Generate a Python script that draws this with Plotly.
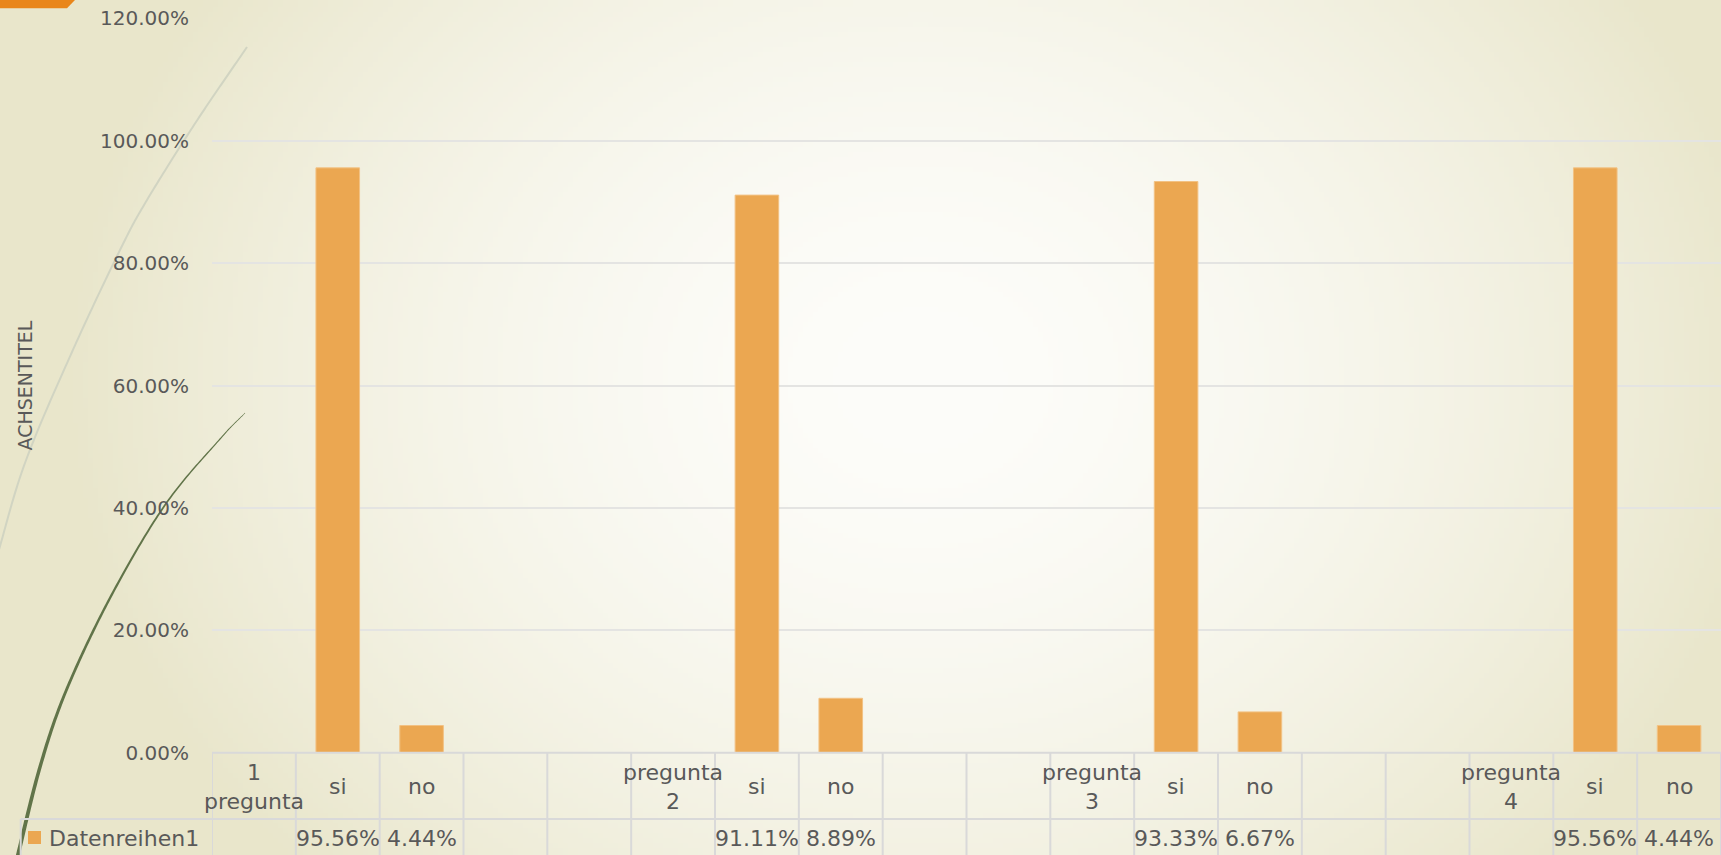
import base64
import struct
import zlib

import numpy as np
import plotly.graph_objects as go

# ---------------- data ----------------
categories = ["1<br>pregunta", "si", "no", "", "",
              "pregunta<br>2", "si", "no", "", "",
              "pregunta<br>3", "si", "no", "", "",
              "pregunta<br>4", "si", "no"]
values = [None, 0.9556, 0.0444, None, None,
          None, 0.9111, 0.0889, None, None,
          None, 0.9333, 0.0667, None, None,
          None, 0.9556, 0.0444]
series_name = "Datenreihen1"
y_tick_values = [0.0, 0.2, 0.4, 0.6, 0.8, 1.0, 1.2]
axis_title = "ACHSENTITEL"

# ---------------- layout constants ----------------
W, H = 1721, 855
PLOT_L, PLOT_R = 212.0, 1721.0
PLOT_T, PLOT_B = 18.3, 752.7
ROW_SPLIT = 819.0
LEG_LEFT = 20.7
FONT = "DejaVu Sans"
TXT = "#595959"
BAR = "#EBA751"
GRID = "#E4E4E2"
TABLE_LINE = "#D9D9D9"


def px(x):
    return x / W


def py(y):
    return 1 - y / H


# ---------------- background gradient (png) ----------------
def png_data_uri(arr):
    h, w, _ = arr.shape
    raw = b"".join(b"\x00" + arr[r].tobytes() for r in range(h))

    def chunk(t, d):
        return (struct.pack(">I", len(d)) + t + d
                + struct.pack(">I", zlib.crc32(t + d) & 0xFFFFFFFF))

    data = (b"\x89PNG\r\n\x1a\n"
            + chunk(b"IHDR", struct.pack(">IIBBBBB", w, h, 8, 2, 0, 0, 0))
            + chunk(b"IDAT", zlib.compress(raw, 9))
            + chunk(b"IEND", b""))
    return "data:image/png;base64," + base64.b64encode(data).decode()


gw, gh = 344, 171
gx = (np.arange(gw) + 0.5) * W / gw
gy = (np.arange(gh) + 0.5) * H / gh
XX, YY = np.meshgrid(gx, gy)
rr = np.sqrt(((XX - 920) / 860) ** 2 + ((YY - 380) / 720) ** 2)
t = np.clip(rr, 0, 1) ** 1.7
c0 = np.array([253, 253, 250], dtype=float)
c1 = np.array([233, 230, 203], dtype=float)
img = (c0[None, None, :] * (1 - t[..., None]) + c1[None, None, :] * t[..., None])
img = np.clip(img, 0, 255).astype(np.uint8)
bg_uri = png_data_uri(img)


# ---------------- decorative curves ----------------
def catmull(points, n=30):
    p = np.array(points, dtype=float)
    p = np.vstack([p[0] * 2 - p[1], p, p[-1] * 2 - p[-2]])
    out = []
    for i in range(1, len(p) - 2):
        p0, p1, p2, p3 = p[i - 1], p[i], p[i + 1], p[i + 2]
        for s in np.linspace(0, 1, n, endpoint=False):
            s2, s3 = s * s, s * s * s
            out.append(0.5 * ((2 * p1) + (-p0 + p2) * s
                              + (2 * p0 - 5 * p1 + 4 * p2 - p3) * s2
                              + (-p0 + 3 * p1 - 3 * p2 + p3) * s3))
    out.append(p[-2])
    return np.array(out)


def path_from(pts, close=False):
    s = "M " + " L ".join(f"{px(a):.5f},{py(b):.5f}" for a, b in pts)
    return s + (" Z" if close else "")


light_pts = catmull([(247, 47), (196, 122), (147, 200), (120, 250),
                     (72, 352), (25, 463), (-4, 560)])
dark_c = catmull([(245, 413), (220, 439), (165, 505), (110, 598),
                  (66, 691), (40, 767), (18, 855), (14, 875)])
tang = np.gradient(dark_c, axis=0)
tang /= np.linalg.norm(tang, axis=1)[:, None]
norm = np.stack([-tang[:, 1], tang[:, 0]], axis=1)
wid = np.linspace(0.6, 4.6, len(dark_c))[:, None]
left = dark_c + norm * wid / 2
right = dark_c - norm * wid / 2
dark_poly = np.vstack([left, right[::-1]])

# ---------------- figure ----------------
idx = list(range(len(categories)))
bar_x = [i for i, v in zip(idx, values) if v is not None]
bar_y = [v for v in values if v is not None]

fig = go.Figure()
fig.add_trace(go.Bar(
    x=bar_x, y=bar_y, name=series_name, width=0.52,
    marker=dict(color=BAR, line=dict(color="#F2C284", width=1)),
    showlegend=False, hoverinfo="y",
))

shapes = []
annotations = []

# orange corner shape
shapes.append(dict(type="path", xref="paper", yref="paper", layer="below",
                   path=path_from([(0, 0), (75, 0), (67, 8.3), (0, 8.3)], True),
                   fillcolor="#E9861A", line=dict(width=0)))
# decorative curves
shapes.append(dict(type="path", xref="paper", yref="paper", layer="below",
                   path=path_from(light_pts), line=dict(color="#D1D4C2", width=2)))
shapes.append(dict(type="path", xref="paper", yref="paper", layer="below",
                   path=path_from(dark_poly, True), fillcolor="#617449",
                   line=dict(width=0)))

# data table grid
y_top, y_mid, y_bot = py(PLOT_B), py(ROW_SPLIT), py(H + 5)
for k in range(len(categories) + 1):
    shapes.append(dict(type="line", xref="x", yref="paper",
                       x0=k - 0.5, x1=k - 0.5, y0=y_top, y1=y_bot,
                       line=dict(color=TABLE_LINE, width=2)))
shapes.append(dict(type="line", xref="x", yref="paper", x0=-0.5,
                   x1=len(categories) - 0.5, y0=y_top, y1=y_top,
                   line=dict(color=TABLE_LINE, width=2)))
shapes.append(dict(type="line", xref="paper", yref="paper", x0=px(LEG_LEFT),
                   x1=1.0, y0=y_mid, y1=y_mid,
                   line=dict(color=TABLE_LINE, width=2)))
shapes.append(dict(type="line", xref="paper", yref="paper", x0=px(LEG_LEFT),
                   x1=px(LEG_LEFT), y0=y_mid, y1=y_bot,
                   line=dict(color=TABLE_LINE, width=2)))
# legend key
shapes.append(dict(type="rect", xref="paper", yref="paper",
                   x0=px(28), x1=px(41), y0=py(844), y1=py(831),
                   fillcolor=BAR, line=dict(width=0)))

TABLE_FONT = dict(family=FONT, size=22, color=TXT)
for i, (cat, v) in enumerate(zip(categories, values)):
    if cat:
        annotations.append(dict(xref="x", yref="paper", x=i,
                                y=py((PLOT_B + ROW_SPLIT) / 2 + 1), text=cat,
                                showarrow=False, xanchor="center", yanchor="middle",
                                align="center", font=TABLE_FONT))
    if v is not None:
        annotations.append(dict(xref="x", yref="paper", x=i, y=py(838),
                                text=f"{v:.2%}", showarrow=False,
                                xanchor="center", yanchor="middle",
                                font=TABLE_FONT))

annotations.append(dict(xref="paper", yref="paper", x=px(47), y=py(838),
                        text=series_name, showarrow=False, xanchor="left",
                        yanchor="middle", font=TABLE_FONT))
annotations.append(dict(xref="paper", yref="paper", x=px(24),
                        y=py((PLOT_T + PLOT_B) / 2), text=axis_title,
                        textangle=-90, showarrow=False, xanchor="center",
                        yanchor="middle",
                        font=dict(family=FONT, size=19, color=TXT)))

fig.update_layout(
    template="none",
    width=W, height=H,
    margin=dict(l=0, r=0, t=0, b=0, pad=0),
    paper_bgcolor="#EFEDDC",
    plot_bgcolor="rgba(0,0,0,0)",
    images=[dict(source=bg_uri, xref="paper", yref="paper", x=0, y=1,
                 sizex=1, sizey=1, xanchor="left", yanchor="top",
                 sizing="stretch", layer="below")],
    xaxis=dict(domain=[px(PLOT_L), px(PLOT_R)], range=[-0.5, len(categories) - 0.5],
               visible=False, fixedrange=True),
    yaxis=dict(domain=[py(PLOT_B), py(PLOT_T)], range=[0, 1.2],
               tickvals=y_tick_values, tickformat=".2%",
               showgrid=True, gridcolor=GRID, gridwidth=2,
               zeroline=False, showline=False, ticks="",
               ticklabelstandoff=22, automargin=False,
               tickfont=dict(family=FONT, size=20, color=TXT), fixedrange=True),
    shapes=shapes,
    annotations=annotations,
    showlegend=False,
    bargap=0.48,
)

fig.write_html(
    "out.html",
    config={"displayModeBar": False},
    post_script="document.body.style.margin='0';document.body.style.overflow='hidden';",
)
